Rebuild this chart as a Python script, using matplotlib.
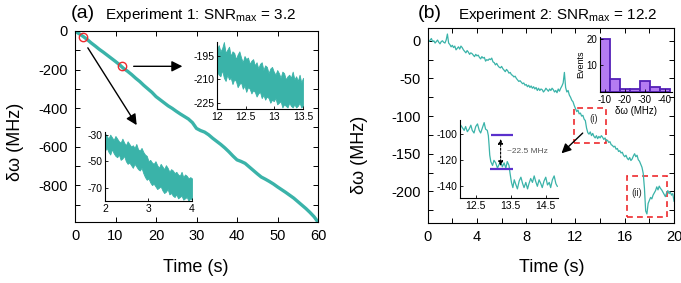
import matplotlib
matplotlib.use("Agg")
import matplotlib.pyplot as plt
from matplotlib.ticker import MultipleLocator
from matplotlib.patches import Rectangle

plt.rcParams['font.family'] = ['Liberation Sans', 'DejaVu Sans']
plt.rcParams['mathtext.fontset'] = 'custom'
plt.rcParams['mathtext.rm'] = 'Liberation Sans'
plt.rcParams['mathtext.it'] = 'Liberation Sans'
plt.rcParams['axes.linewidth'] = 0.8
plt.rcParams['axes.unicode_minus'] = False

TEAL = '#3ab3a9'
RED = '#ee2a2e'
PURPLE_FILL = '#b47cf2'
PURPLE_EDGE = '#5420b8'
LINE_PURPLE = '#5a30cc'

# ---- data: experiment 1 (panel a) ----
a_time = [0, 1, 2, 3, 4, 5, 6, 7, 8, 9, 10, 11, 12, 13, 14, 15, 16, 17, 18, 19, 20,
          21, 22, 23, 24, 25, 26, 27, 28, 29, 30, 31, 32, 33, 34, 35, 36, 37, 38, 39, 40,
          41, 42, 43, 44, 45, 46, 47, 48, 49, 50, 51, 52, 53, 54, 55, 56, 57, 58, 59, 60]
a_shift = [0, -14, -28, -44, -62, -78, -95, -110, -126, -142, -158, -175, -194, -209, -226,
           -245, -262, -282, -300, -318, -340, -356, -372, -388, -401, -416, -430, -443, -456,
           -475, -505, -516, -524, -538, -556, -572, -588, -606, -626, -648, -668, -676, -686,
           -704, -722, -740, -757, -768, -780, -793, -808, -822, -836, -851, -866, -884, -902,
           -920, -940, -962, -990]

# zoom 1: 12 - 13.5 s (upper / lower envelope of the noisy trace)
a1_time = [12.00, 12.03, 12.06, 12.09, 12.12, 12.15, 12.18, 12.21, 12.24, 12.27, 12.30,
           12.33, 12.36, 12.39, 12.42, 12.45, 12.48, 12.51, 12.54, 12.57, 12.60, 12.63,
           12.66, 12.69, 12.72, 12.75, 12.78, 12.81, 12.84, 12.87, 12.90, 12.93, 12.96,
           12.99, 13.02, 13.05, 13.08, 13.11, 13.14, 13.17, 13.20, 13.23, 13.26, 13.29,
           13.32, 13.35, 13.38, 13.41, 13.44, 13.47, 13.50]
a1_top = [-191, -188, -192, -190, -186, -193, -191, -189, -195, -192, -193, -197, -194,
          -192, -196, -199, -195, -197, -196, -200, -198, -197, -201, -199, -203, -200,
          -199, -204, -201, -202, -206, -203, -202, -205, -207, -204, -206, -209, -205,
          -206, -210, -208, -207, -209, -205, -210, -208, -211, -207, -212, -209]
a1_bottom = [-205, -207, -208, -204, -209, -211, -207, -210, -209, -213, -210, -211, -215,
             -213, -212, -216, -214, -218, -215, -216, -219, -217, -218, -221, -219, -218,
             -222, -220, -223, -221, -222, -225, -223, -224, -222, -226, -225, -224, -228,
             -226, -227, -228, -225, -227, -228, -226, -228, -227, -225, -228, -227]

# zoom 2: 2 - 4 s
a2_time = [2.00, 2.04, 2.08, 2.12, 2.16, 2.20, 2.24, 2.28, 2.32, 2.36, 2.40, 2.44, 2.48,
           2.52, 2.56, 2.60, 2.64, 2.68, 2.72, 2.76, 2.80, 2.84, 2.88, 2.92, 2.96, 3.00,
           3.04, 3.08, 3.12, 3.16, 3.20, 3.24, 3.28, 3.32, 3.36, 3.40, 3.44, 3.48, 3.52,
           3.56, 3.60, 3.64, 3.68, 3.72, 3.76, 3.80, 3.84, 3.88, 3.92, 3.96, 4.00]
a2_top = [-29, -31, -33, -30, -32, -34, -31, -33, -35, -36, -33, -36, -38, -35, -37, -39,
          -38, -40, -37, -41, -42, -40, -43, -45, -46, -50, -49, -51, -52, -50, -53, -55,
          -52, -54, -56, -53, -55, -58, -56, -57, -59, -58, -60, -61, -58, -62, -60, -61,
          -63, -62, -63]
a2_bottom = [-42, -40, -43, -45, -41, -44, -46, -47, -45, -49, -48, -46, -50, -52, -51, -53,
             -55, -52, -54, -56, -57, -55, -59, -62, -64, -63, -66, -68, -67, -69, -71, -70,
             -69, -72, -74, -73, -71, -75, -74, -76, -77, -75, -78, -77, -76, -79, -78, -77,
             -80, -78, -79]

# ---- data: experiment 2 (panel b) ----
b_time = [0.0, 0.1, 0.2, 0.3, 0.4, 0.5, 0.6, 0.7, 0.8, 0.9,
          1.0, 1.1, 1.2, 1.3, 1.4, 1.5, 1.6, 1.7, 1.8, 1.9,
          2.0, 2.1, 2.2, 2.3, 2.4, 2.5, 2.6, 2.7, 2.8, 2.9,
          3.0, 3.1, 3.2, 3.3, 3.4, 3.5, 3.6, 3.7, 3.8, 3.9,
          4.0, 4.1, 4.2, 4.3, 4.4, 4.5, 4.6, 4.7, 4.8, 4.9,
          5.0, 5.1, 5.2, 5.3, 5.4, 5.5, 5.6, 5.7, 5.8, 5.9,
          6.0, 6.1, 6.2, 6.3, 6.4, 6.5, 6.6, 6.7, 6.8, 6.9,
          7.0, 7.1, 7.2, 7.3, 7.4, 7.5, 7.6, 7.7, 7.8, 7.9,
          8.0, 8.1, 8.2, 8.3, 8.4, 8.5, 8.6, 8.7, 8.8, 8.9,
          9.0, 9.1, 9.2, 9.3, 9.4, 9.5, 9.6, 9.7, 9.8, 9.9,
          10.0, 10.1, 10.2, 10.3, 10.4, 10.5, 10.6, 10.7, 10.8, 10.9,
          11.0, 11.1, 11.2, 11.3, 11.4, 11.5, 11.6, 11.7, 11.8, 11.9,
          12.0, 12.1, 12.2, 12.3, 12.4, 12.5, 12.6, 12.7, 12.8, 12.9,
          13.0, 13.1, 13.2, 13.3, 13.4, 13.5, 13.6, 13.7, 13.8, 13.9,
          14.0, 14.1, 14.2, 14.3, 14.4, 14.5, 14.6, 14.7, 14.8, 14.9,
          15.0, 15.1, 15.2, 15.3, 15.4, 15.5, 15.6, 15.7, 15.8, 15.9,
          16.0, 16.1, 16.2, 16.3, 16.4, 16.5, 16.6, 16.7, 16.8, 16.9,
          17.0, 17.1, 17.2, 17.3, 17.4, 17.5, 17.6, 17.7, 17.8, 17.9,
          18.0, 18.1, 18.2, 18.3, 18.4, 18.5, 18.6, 18.7, 18.8, 18.9,
          19.0, 19.1, 19.2, 19.3, 19.4, 19.5, 19.6, 19.7, 19.8, 19.9,
          20.0]
b_shift = [2, -1, 1, 3, -1, 0, -3, -1, 1, -2,
           -4, -1, 0, -2, -3, 1, 9, -3, -5, -8,
           -6, -9, -7, -12, -10, -8, -11, -7, -9, -12,
           -14, -16, -13, -15, -18, -16, -17, -19, -21, -18,
           -20, -19, -22, -24, -21, -23, -22, -27, -25, -26,
           -24, -25, -23, -28, -29, -32, -30, -33, -35, -36,
           -34, -37, -39, -41, -38, -40, -43, -42, -45, -46,
           -48, -47, -50, -52, -54, -53, -55, -57, -56, -59,
           -58, -61, -59, -62, -60, -63, -61, -64, -62, -66,
           -63, -66, -64, -65, -68, -66, -63, -65, -67, -64,
           -66, -63, -65, -68, -66, -69, -64, -67, -63, -60,
           -56, -42, -62, -68, -66, -72, -75, -79, -81, -86,
           -90, -94, -92, -97, -96, -100, -99, -104, -106, -116,
           -122, -124, -121, -126, -123, -127, -129, -126, -130, -127,
           -129, -126, -128, -131, -129, -133, -132, -135, -134, -138,
           -139, -141, -140, -144, -143, -147, -146, -149, -148, -152,
           -154, -152, -156, -158, -155, -159, -157, -153, -150, -154,
           -152, -158, -160, -164, -168, -176, -196, -226, -230, -216,
           -212, -208, -210, -205, -202, -199, -194, -198, -193, -196,
           -198, -201, -204, -207, -202, -199, -203, -201, -205, -203,
           -213]

# zoom on step (i)
bz_time = [12.07, 12.12, 12.17, 12.21, 12.26, 12.31, 12.36, 12.40, 12.45, 12.5, 12.55, 12.6,
           12.64, 12.69, 12.74, 12.78, 12.83, 12.86, 12.88, 12.9, 12.93, 12.98, 13.02, 13.07,
           13.12, 13.17, 13.21, 13.26, 13.31, 13.36, 13.4, 13.45, 13.48, 13.52, 13.56, 13.6,
           13.65, 13.69, 13.74, 13.79, 13.84, 13.88, 13.93, 13.98, 14.02, 14.07, 14.12, 14.17,
           14.21, 14.26, 14.31, 14.36, 14.4, 14.45, 14.5, 14.55, 14.6, 14.64, 14.69, 14.74,
           14.79, 14.83]
bz_shift = [-93, -95, -97, -94, -98, -96, -93, -97, -99, -94, -92, -97,
            -99, -95, -91, -96, -97, -101, -108, -116, -121, -124, -120, -122,
            -126, -123, -121, -125, -122, -126, -121, -124, -130, -137, -141, -135,
            -139, -142, -136, -133, -138, -141, -137, -142, -138, -134, -137, -132,
            -136, -140, -135, -138, -141, -136, -133, -139, -137, -141, -135, -132,
            -138, -140]
step_levels = [-100.5, -127]

# histogram of step sizes
hist_centers = [-10, -15, -20, -25, -30, -35, -40]
hist_counts = [20, 5, 1, 1, 4, 2, 1]

W, H = 681, 283


def px_axes(fig, left, top, right, bottom):
    return fig.add_axes([left / W, 1 - bottom / H, (right - left) / W, (bottom - top) / H])


def style_main(ax):
    ax.tick_params(which='both', direction='in', top=True, right=True,
                   length=3.5, width=0.7, labelsize=10.5, pad=5)


def style_inset(ax, size=7.5):
    ax.patch.set_alpha(0)
    for s in ['top', 'right']:
        ax.spines[s].set_visible(False)
    ax.tick_params(which='both', direction='in', length=2.5, width=0.6,
                   labelsize=size, pad=2)


fig = plt.figure(figsize=(W / 100, H / 100), dpi=100)

# ---------------- panel (a) ----------------
ax_a = px_axes(fig, 75, 31, 318, 222)
ax_a.plot(a_time, a_shift, color=TEAL, lw=2.4, solid_capstyle='butt')
ax_a.set_xlim(0, 60)
ax_a.set_ylim(-990, 0)
ax_a.set_xticks([0, 10, 20, 30, 40, 50, 60])
ax_a.set_yticks([0, -200, -400, -600, -800])
ax_a.yaxis.set_minor_locator(MultipleLocator(100))
style_main(ax_a)

ax_a.plot([2.0, 11.6], [-31, -184], 'o', ms=6, mfc='none', mec=RED, mew=1.0)
ax_a.annotate('', xy=(15.6, -500), xytext=(2.8, -75),
              arrowprops=dict(arrowstyle='-|>', color='k', lw=1.0, mutation_scale=16))
ax_a.annotate('', xy=(27.2, -183), xytext=(13.8, -183),
              arrowprops=dict(arrowstyle='-|>', color='k', lw=1.0, mutation_scale=16))

ax_a1 = px_axes(fig, 217, 42, 303, 109)
ax_a1.fill_between(a1_time, a1_top, a1_bottom, color=TEAL, lw=0.6)
ax_a1.set_xlim(12, 13.5)
ax_a1.set_ylim(-229, -186)
ax_a1.set_xticks([12, 12.5, 13, 13.5])
ax_a1.set_xticklabels(['12', '12.5', '13', '13.5'])
ax_a1.set_yticks([-195, -210, -225])
style_inset(ax_a1)

ax_a2 = px_axes(fig, 105, 132, 192, 201)
ax_a2.fill_between(a2_time, a2_top, a2_bottom, color=TEAL, lw=0.6)
ax_a2.set_xlim(2, 4)
ax_a2.set_ylim(-80, -28)
ax_a2.set_xticks([2, 3, 4])
ax_a2.set_yticks([-30, -50, -70])
style_inset(ax_a2)

fig.text(83 / W, 1 - 14 / H, '(a)', fontsize=14, ha='center', va='center')
fig.text(201 / W, 1 - 15 / H, r'Experiment 1: SNR$_{\mathrm{max}}$ = 3.2', fontsize=11,
         ha='center', va='center')
fig.text(196 / W, 1 - 268 / H, 'Time (s)', fontsize=13, ha='center', va='center')
fig.text(16 / W, 1 - 142 / H, 'δω (MHz)', fontsize=13, ha='center', va='center', rotation=90)

# ---------------- panel (b) ----------------
ax_b = px_axes(fig, 427.7, 28, 674, 223)
ax_b.plot(b_time, b_shift, color=TEAL, lw=0.9)
ax_b.set_xlim(0, 20)
ax_b.set_ylim(-242, 17)
ax_b.set_xticks([0, 4, 8, 12, 16, 20])
ax_b.xaxis.set_minor_locator(MultipleLocator(2))
ax_b.set_yticks([0, -50, -100, -150, -200])
ax_b.yaxis.set_minor_locator(MultipleLocator(25))
style_main(ax_b)

for (x0, x1, y0, y1) in [(11.85, 14.5, -135.5, -89.5), (16.2, 19.4, -234.5, -179.5)]:
    ax_b.add_patch(Rectangle((x0, y0), x1 - x0, y1 - y0, fill=False, ec=RED, lw=1.2,
                             ls=(0, (3.5, 2.5))))
ax_b.text(13.5, -104, '(i)', fontsize=7, color='#333333', ha='center', va='center')
ax_b.text(16.95, -202, '(ii)', fontsize=7, color='#333333', ha='center', va='center')
ax_b.annotate('', xy=(10.7, -152), xytext=(12.75, -120),
              arrowprops=dict(arrowstyle='-|>', color='k', lw=1.0, mutation_scale=14))

ax_bz = px_axes(fig, 460, 120, 558, 198)
ax_bz.plot(bz_time, bz_shift, color=TEAL, lw=0.9)
ax_bz.hlines(step_levels[0], 12.93, 13.55, color=LINE_PURPLE, lw=1.6)
ax_bz.hlines(step_levels[1], 12.9, 13.55, color=LINE_PURPLE, lw=1.6)
ax_bz.annotate('', xy=(13.21, step_levels[1] + 0.5), xytext=(13.21, step_levels[0] - 1),
               arrowprops=dict(arrowstyle='<|-|>', color='k', lw=0.8, mutation_scale=7,
                               linestyle=(0, (2, 1.5))))
ax_bz.text(13.38, -113, '~22.5 MHz', fontsize=6, color='#555555', ha='left', va='center')
ax_bz.set_xlim(12.05, 14.85)
ax_bz.set_ylim(-149, -89)
ax_bz.set_xticks([12.5, 13.5, 14.5])
ax_bz.set_yticks([-100, -120, -140])
style_inset(ax_bz)

ax_h = px_axes(fig, 600, 37, 672, 92)
ax_h.bar(hist_centers, hist_counts, width=5, color=PURPLE_FILL, edgecolor=PURPLE_EDGE, lw=1.3)
ax_h.set_xlim(-7.5, -43.5)
ax_h.set_ylim(0, 20.6)
ax_h.set_xticks([-10, -20, -30, -40])
ax_h.set_yticks([10, 20])
style_inset(ax_h, size=7)
ax_h.set_xlabel('δω (MHz)', fontsize=7, labelpad=1)
ax_h.set_ylabel('Events', fontsize=6.5, labelpad=1)

fig.text(430 / W, 1 - 14 / H, '(b)', fontsize=14, ha='center', va='center')
fig.text(558 / W, 1 - 15 / H, r'Experiment 2: SNR$_{\mathrm{max}}$ = 12.2', fontsize=11,
         ha='center', va='center')
fig.text(552 / W, 1 - 268 / H, 'Time (s)', fontsize=13, ha='center', va='center')
fig.text(360 / W, 1 - 155 / H, 'δω (MHz)', fontsize=13, ha='center', va='center', rotation=90)

fig.savefig('out.png', dpi=100)
